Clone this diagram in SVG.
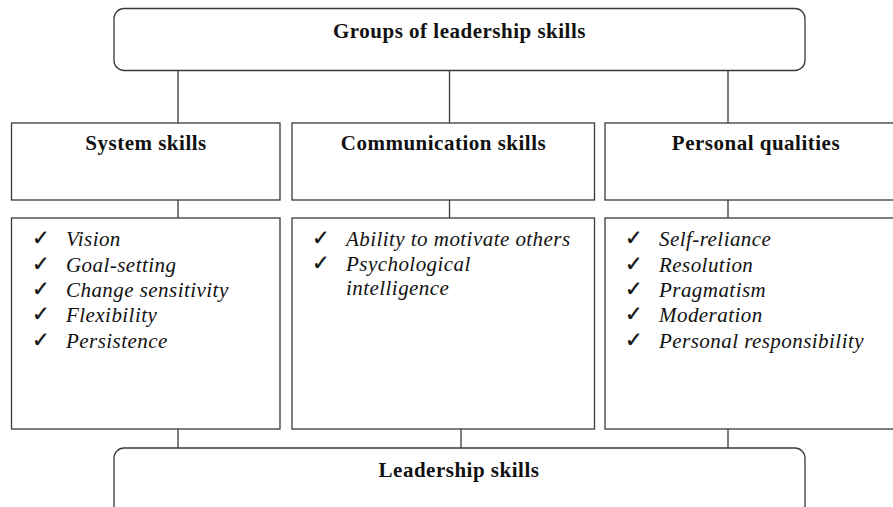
<svg xmlns="http://www.w3.org/2000/svg" width="893" height="507" viewBox="0 0 893 507">
<style>
.box{fill:#fff;stroke:#3a3a3a;stroke-width:1.3}
.conn line{stroke:#3a3a3a;stroke-width:1.3}
.hd{font-family:"Liberation Serif","Times New Roman",serif;font-weight:bold;font-size:21px;letter-spacing:0.5px;fill:#111;text-anchor:middle}
.it{font-family:"Liberation Serif","Times New Roman",serif;font-style:italic;font-size:21px;letter-spacing:0.45px;fill:#111}
.ck{font-family:"DejaVu Sans",sans-serif;font-size:21px;fill:#111;stroke:#111;stroke-width:0.4}
</style>
<rect width="893" height="507" fill="#fff"/>
<g id="connectors" class="conn">
<line x1="178" y1="70" x2="178" y2="123"/>
<line x1="449.5" y1="70" x2="449.5" y2="123"/>
<line x1="728" y1="70" x2="728" y2="123"/>
<line x1="178" y1="200" x2="178" y2="218"/>
<line x1="449.5" y1="200" x2="449.5" y2="218"/>
<line x1="728" y1="200" x2="728" y2="218"/>
<line x1="178" y1="429" x2="178" y2="448"/>
<line x1="461" y1="429" x2="461" y2="448"/>
<line x1="728" y1="429" x2="728" y2="448"/>
</g>
<g id="top">
<rect class="box" x="114" y="8.5" width="691" height="62" rx="10"/>
<text class="hd" x="459.5" y="38">Groups of leadership skills</text>
</g>
<g id="system-header">
<rect class="box" x="11.5" y="123" width="268.5" height="77"/>
<text class="hd" x="146" y="150">System skills</text>
</g>
<g id="communication-header">
<rect class="box" x="292" y="123" width="302.5" height="77"/>
<text class="hd" x="443.5" y="150">Communication skills</text>
</g>
<g id="personal-header">
<rect class="box" x="605" y="123" width="302" height="77"/>
<text class="hd" x="756" y="150">Personal qualities</text>
</g>
<g id="system-list">
<rect class="box" x="11.5" y="218" width="268.5" height="211"/>
<text class="ck" x="32" y="245">✓</text><text class="it" x="66" y="246">Vision</text>
<text class="ck" x="32" y="270.5">✓</text><text class="it" x="66" y="271.5">Goal-setting</text>
<text class="ck" x="32" y="296">✓</text><text class="it" x="66" y="297">Change sensitivity</text>
<text class="ck" x="32" y="321">✓</text><text class="it" x="66" y="322">Flexibility</text>
<text class="ck" x="32" y="346.5">✓</text><text class="it" x="66" y="347.5">Persistence</text>
</g>
<g id="communication-list">
<rect class="box" x="292" y="218" width="302.5" height="211"/>
<text class="ck" x="312" y="245">✓</text><text class="it" x="346" y="246">Ability to motivate others</text>
<text class="ck" x="312" y="270">✓</text><text class="it" x="346" y="271">Psychological</text>
<text class="it" x="346" y="295">intelligence</text>
</g>
<g id="personal-list">
<rect class="box" x="605" y="218" width="302" height="211"/>
<text class="ck" x="625" y="245">✓</text><text class="it" x="659" y="246">Self-reliance</text>
<text class="ck" x="625" y="270.5">✓</text><text class="it" x="659" y="271.5">Resolution</text>
<text class="ck" x="625" y="296">✓</text><text class="it" x="659" y="297">Pragmatism</text>
<text class="ck" x="625" y="321">✓</text><text class="it" x="659" y="322">Moderation</text>
<text class="ck" x="625" y="346.5">✓</text><text class="it" x="659" y="347.5">Personal responsibility</text>
</g>
<g id="bottom">
<rect class="box" x="114" y="448" width="691" height="80" rx="10"/>
<text class="hd" x="459" y="477">Leadership skills</text>
</g>
</svg>
